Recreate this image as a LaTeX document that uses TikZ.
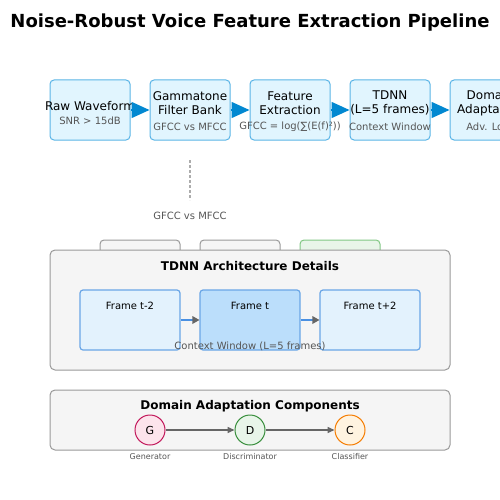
\documentclass[tikz,border=0pt]{standalone}
\usepackage{fontspec}
\setmainfont{DejaVu Sans}
\usetikzlibrary{arrows.meta}
\definecolor{topfill}{HTML}{E1F5FE}
\definecolor{topdraw}{HTML}{5AB4E6}
\definecolor{arrblue}{HTML}{0288D1}
\definecolor{frfill}{HTML}{E3F2FD}
\definecolor{frmid}{HTML}{BBDEFB}
\definecolor{frdraw}{HTML}{6AA6E6}
\definecolor{frline}{HTML}{4A90E2}
\definecolor{panfill}{HTML}{F5F5F5}
\definecolor{pandraw}{HTML}{999999}
\definecolor{subgray}{HTML}{555555}
\definecolor{grfill}{HTML}{E8F5E9}
\definecolor{grdraw}{HTML}{81C784}
\definecolor{gfill}{HTML}{FCE4EC}
\definecolor{gdraw}{HTML}{C2185B}
\definecolor{dfill}{HTML}{E8F5E9}
\definecolor{ddraw}{HTML}{388E3C}
\definecolor{cfill}{HTML}{FFF3E0}
\definecolor{cdraw}{HTML}{F57C00}
\tikzset{
  topbox/.style={draw=topdraw, fill=topfill, line width=1pt, rounded corners=4pt, minimum width=80pt, minimum height=60pt, inner sep=0pt},
  mainlbl/.style={font=\fontsize{12}{14}\selectfont, align=center, inner sep=0pt},
  sublbl/.style={font=\fontsize{10}{12}\selectfont, text=subgray, inner sep=0pt},
  bigarrow/.style={draw=arrblue, line width=1.5pt, -{Triangle[length=18pt,width=16pt]}, arrblue},
  panel/.style={draw=pandraw, fill=panfill, line width=1pt, rounded corners=5pt, inner sep=0pt},
  frame/.style={draw=frdraw, fill=frfill, line width=1.2pt, rounded corners=3pt, minimum width=100pt, minimum height=60pt, inner sep=0pt},
  frlbl/.style={font=\fontsize{10}{12}\selectfont, inner sep=0pt},
  paneltitle/.style={font=\bfseries\fontsize{12}{14}\selectfont, inner sep=0pt},
  circ/.style={circle, minimum size=30pt, inner sep=0pt, line width=1pt, font=\fontsize{11}{13}\selectfont},
  circlbl/.style={font=\fontsize{8}{10}\selectfont, text=subgray, inner sep=0pt},
  grayarrow/.style={draw=gray!80!black, line width=1.5pt, -{Triangle[length=7pt,width=6pt]}},
}
\begin{document}
\begin{tikzpicture}[x=1pt,y=-1pt]
\useasboundingbox (0,0) rectangle (500,500);
\clip (0,0) rectangle (500,500);
% title
\node[font=\bfseries\fontsize{18}{21}\selectfont, inner sep=0pt] (title) at (250,23) {Noise-Robust Voice Feature Extraction Pipeline};
% top boxes
\node[topbox] (raw) at (90,110) {};
\node[topbox] (gam) at (190,110) {};
\node[topbox] (feat) at (290,110) {};
\node[topbox] (tdnn) at (390,110) {};
\node[topbox] (dom) at (490,110) {};
\node[mainlbl] (rawl) at (90,106) {Raw Waveform};
\node[sublbl] (raws) at (90,121) {SNR > 15dB};
\node[mainlbl] (gaml) at (190,103) {Gammatone\\Filter Bank};
\node[sublbl] (gams) at (190,127) {GFCC vs MFCC};
\node[mainlbl] (featl) at (290,103) {Feature\\Extraction};
\node[sublbl] (feats) at (290,127) {GFCC = log(∑(E(f)²))};
\node[mainlbl] (tdnnl) at (390,103) {TDNN\\(L=5 frames)};
\node[sublbl] (tdnns) at (390,127) {Context Window};
\node[mainlbl] (doml) at (490,103) {Domain\\Adaptation};
\node[sublbl] (doms) at (490,127) {Adv. Loss};
\draw[bigarrow] (raw.east) -- (gam.west);
\draw[bigarrow] (gam.east) -- (feat.west);
\draw[bigarrow] (feat.east) -- (tdnn.west);
\draw[bigarrow] (tdnn.east) -- (dom.west);
% dashed annotation
\coordinate (dtop) at (190,160);
\coordinate (dbot) at (190,200);
\draw[draw=gray!65, line width=1.5pt, dash pattern=on 3pt off 2pt] (dtop) -- (dbot);
\node[sublbl] (gfccnote) at (190,216) {GFCC vs MFCC};
% small boxes behind panel
\node[panel, minimum width=80pt, minimum height=40pt, rounded corners=4pt] (sb1) at (140,260) {};
\node[panel, minimum width=80pt, minimum height=40pt, rounded corners=4pt] (sb2) at (240,260) {};
\node[panel, draw=grdraw, fill=grfill, minimum width=80pt, minimum height=40pt, rounded corners=4pt] (sb3) at (340,260) {};
% TDNN panel
\node[panel, minimum width=400pt, minimum height=120pt] (tpanel) at (250,310) {};
\node[paneltitle] (tptitle) at (250,266) {TDNN Architecture Details};
\node[frame] (f1) at (130,320) {};
\node[frame, fill=frmid] (f2) at (250,320) {};
\node[frame] (f3) at (370,320) {};
\node[frlbl] (f1l) at (130,306) {Frame t-2};
\node[frlbl] (f2l) at (250,306) {Frame t};
\node[frlbl] (f3l) at (370,306) {Frame t+2};
\draw[frline, line width=2pt, shorten >=6pt] (f1.east) -- (f2.west);
\draw[frline, line width=2pt, shorten >=6pt] (f2.east) -- (f3.west);
\draw[draw=none, fill=gray!80!black] ([xshift=-7pt,yshift=4pt]f2.west) -- (f2.west) -- ([xshift=-7pt,yshift=-4pt]f2.west) -- cycle;
\draw[draw=none, fill=gray!80!black] ([xshift=-7pt,yshift=4pt]f3.west) -- (f3.west) -- ([xshift=-7pt,yshift=-4pt]f3.west) -- cycle;
\node[sublbl] (ctx) at (250,346) {Context Window (L=5 frames)};
% Domain panel
\node[panel, minimum width=400pt, minimum height=60pt] (dpanel) at (250,420) {};
\node[paneltitle] (dptitle) at (250,406) {Domain Adaptation Components};
\node[circ, draw=gdraw, fill=gfill] (g) at (150,430) {G};
\node[circ, draw=ddraw, fill=dfill] (d) at (250,430) {D};
\node[circ, draw=cdraw, fill=cfill] (c) at (350,430) {C};
\draw[grayarrow] (g) -- (d);
\draw[grayarrow] (d) -- (c);
\node[circlbl] (gl) at (150,457) {Generator};
\node[circlbl] (dl) at (250,457) {Discriminator};
\node[circlbl] (cl) at (350,457) {Classifier};
\end{tikzpicture}
\end{document}
